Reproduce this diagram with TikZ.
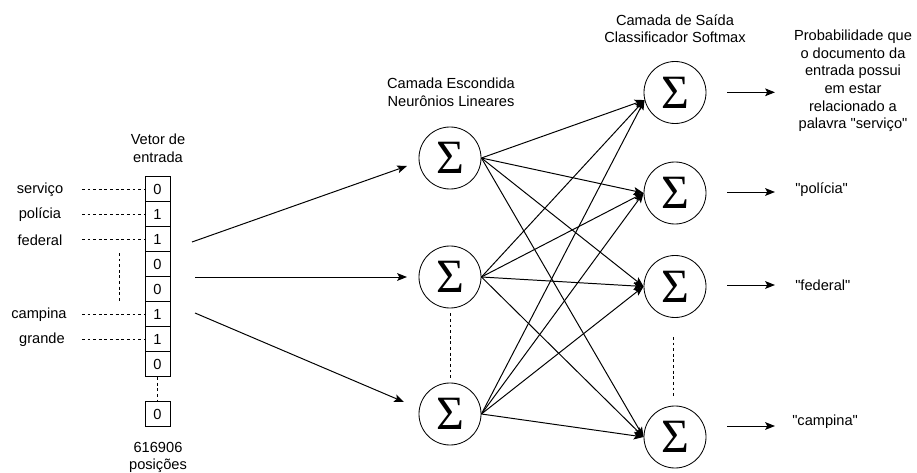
\documentclass[tikz,border=0pt]{standalone}
\usepackage{fontspec}
\setmainfont{Liberation Sans}
\newfontfamily\sigmafont{Liberation Serif}
\usetikzlibrary{arrows.meta}

\begin{document}
\begin{tikzpicture}[x=0.025cm, y=-0.025cm,
  font=\fontsize{10.4}{12.5}\selectfont,
  cell/.style={draw, line width=0.6pt, minimum width=0.625cm, minimum height=0.625cm, inner sep=0pt},
  neuron/.style={draw, circle, line width=0.6pt, minimum size=1.55cm, inner sep=0pt, font=\sigmafont\fontsize{34}{34}\selectfont},
  seta/.style={-{Stealth[length=7pt,width=5.5pt,inset=1.5pt]}, line width=0.7pt},
  pontos/.style={dash pattern=on 2pt off 2pt, line width=0.6pt}]
\useasboundingbox (0,0) rectangle (917,473);

% vetor de entrada
\node[align=center] (tvetor) at (158,148.5) {Vetor de\\entrada};
\node[cell] (c1) at (157.5,189.2) {0};
\node[cell] (c2) at (157.5,214.2) {1};
\node[cell] (c3) at (157.5,239.2) {1};
\node[cell] (c4) at (157.5,264.2) {0};
\node[cell] (c5) at (157.5,289.2) {0};
\node[cell] (c6) at (157.5,314.2) {1};
\node[cell] (c7) at (157.5,339.2) {1};
\node[cell] (c8) at (157.5,364.2) {0};
\node[cell] (cn) at (157.5,414.2) {0};
\draw[pontos] (c8.south) -- (cn.north);
\node[align=center] (tpos) at (158,457.5) {616906\\posições};

% palavras
\node (servico) at (40,190) {serviço};
\node (policia) at (40,215) {polícia};
\node (federal) at (40,240) {federal};
\node (campina) at (39,315) {campina};
\node (grande) at (42,340) {grande};
\coordinate (d1) at (82,189.2);
\coordinate (d2) at (82,214.2);
\coordinate (d3) at (82,239.2);
\coordinate (d6) at (82,314.2);
\coordinate (d7) at (82,339.2);
\draw[pontos] (d1) -- (c1.west);
\draw[pontos] (d2) -- (c2.west);
\draw[pontos] (d3) -- (c3.west);
\draw[pontos] (d6) -- (c6.west);
\draw[pontos] (d7) -- (c7.west);
\coordinate (v1) at (119,253);
\coordinate (v2) at (119,302);
\draw[pontos] (v1) -- (v2);

% camada escondida
\node[align=center] (tesc) at (451,92.5) {Camada Escondida\\Neurônios Lineares};
\node[neuron] (h1) at (450,158) {Σ};
\node[neuron] (h2) at (450,277) {Σ};
\node[neuron] (h3) at (450,414) {Σ};
\draw[pontos, shorten <=3.5pt, shorten >=3.5pt] (h2.south) -- (h3.north);

\coordinate (a1) at (192,242);
\coordinate (a2) at (195,277);
\coordinate (a3) at (195,313);
\coordinate (b1) at (407,166);
\coordinate (b2) at (407,277);
\coordinate (b3) at (404,402);
\draw[seta] (a1) -- (b1);
\draw[seta] (a2) -- (b2);
\draw[seta] (a3) -- (b3);

% camada de saida
\node[align=center] (tsai) at (675,28.5) {Camada de Saída\\Classificador Softmax};
\node[neuron] (o1) at (675,92.5) {Σ};
\node[neuron] (o2) at (675,193) {Σ};
\node[neuron] (o3) at (675,286.5) {Σ};
\node[neuron] (o4) at (675,437) {Σ};
\coordinate (p1) at (673,337);
\coordinate (p2) at (673,398);
\draw[pontos] (p1) -- (p2);

\draw[seta] (h1.east) -- (o1.194);
\draw[seta] (h1.east) -- (o2.west);
\draw[seta] (h1.east) -- (o3.west);
\draw[seta] (h1.east) -- (o4.west);
\draw[seta] (h2.east) -- (o1.194);
\draw[seta] (h2.east) -- (o2.west);
\draw[seta] (h2.east) -- (o3.west);
\draw[seta] (h2.east) -- (o4.west);
\draw[seta] (h3.east) -- (o1.194);
\draw[seta] (h3.east) -- (o2.west);
\draw[seta] (h3.east) -- (o3.west);
\draw[seta] (h3.east) -- (o4.west);

% saidas
\coordinate (s1) at (727,92.3);
\coordinate (e1) at (775,92.3);
\coordinate (s2) at (727,192);
\coordinate (e2) at (775,192);
\coordinate (s3) at (727,285);
\coordinate (e3) at (775,285);
\coordinate (s4) at (727,426);
\coordinate (e4) at (775,426);
\draw[seta] (s1) -- (e1);
\draw[seta] (s2) -- (e2);
\draw[seta] (s3) -- (e3);
\draw[seta] (s4) -- (e4);

\node[align=center] (prob) at (853,81) {Probabilidade que\\o documento da\\entrada possui\\em estar\\relacionado a\\palavra \textquotedbl serviço\textquotedbl};
\node[anchor=west, inner sep=0pt] (lpol) at (795,190) {\textquotedbl polícia\textquotedbl};
\node[anchor=west, inner sep=0pt] (lfed) at (795,285) {\textquotedbl federal\textquotedbl};
\node[anchor=west, inner sep=0pt] (lcam) at (792,422) {\textquotedbl campina\textquotedbl};
\end{tikzpicture}
\end{document}
